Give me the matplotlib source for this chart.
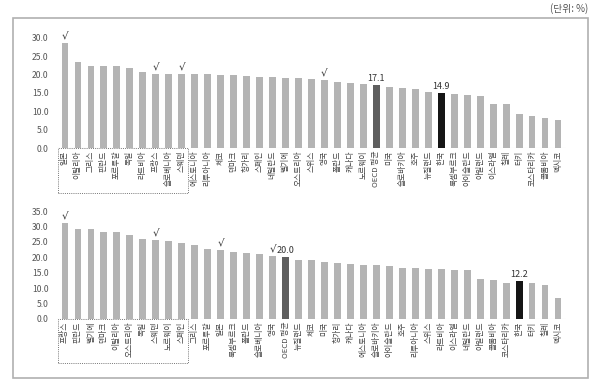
#!/usr/bin/env python3
"""
Two OECD ranking bar charts (top / bottom panel) with Korea highlighted.
Saves out.png (600x388).
"""

import matplotlib
matplotlib.use("Agg")
import matplotlib.pyplot as plt
from matplotlib.patches import Rectangle
from matplotlib.transforms import blended_transform_factory

plt.rcParams["font.family"] = ["Noto Sans CJK KR", "DejaVu Sans"]

# top panel
top_countries = [
    "일본", "이탈리아", "그리스", "핀란드", "포르투갈", "독일", "라트비아", "프랑스",
    "슬로베니아", "스웨덴", "에스토니아", "리투아니아", "체코", "덴마크", "헝가리",
    "스페인", "네덜란드", "벨기에", "오스트리아", "스위스", "영국", "폴란드", "캐나다",
    "노르웨이", "OECD 평균", "미국", "슬로바키아", "호주", "뉴질랜드", "한국",
    "룩셈부르크", "아이슬란드", "아일랜드", "이스라엘", "칠레", "터키", "코스타리카",
    "콜롬비아", "멕시코",
]
top_values = [
    28.6, 23.4, 22.4, 22.3, 22.3, 21.8, 20.6, 20.3, 20.3, 20.1, 20.1, 20.1, 19.9,
    19.9, 19.6, 19.4, 19.3, 19.2, 19.0, 18.8, 18.5, 17.9, 17.6, 17.4, 17.1, 16.5,
    16.4, 16.1, 15.3, 14.9, 14.6, 14.4, 14.2, 12.0, 12.0, 9.2, 8.6, 8.3, 7.5,
]
top_checks = ["일본", "프랑스", "스웨덴", "영국"]

# bottom panel
bottom_countries = [
    "프랑스", "핀란드", "벨기에", "덴마크", "이탈리아", "오스트리아", "독일", "스웨덴",
    "노르웨이", "스페인", "그리스", "포르투갈", "일본", "룩셈부르크", "폴란드",
    "슬로베니아", "영국", "OECD 평균", "뉴질랜드", "체코", "미국", "헝가리", "캐나다",
    "에스토니아", "슬로바키아", "아이슬란드", "호주", "리투아니아", "스위스", "라트비아",
    "이스라엘", "네덜란드", "아일랜드", "콜롬비아", "코스타리카", "한국", "터키",
    "칠레", "멕시코",
]
bottom_values = [
    31.3, 29.3, 29.1, 28.3, 28.3, 27.2, 26.1, 25.6, 25.3, 24.8, 24.0, 22.6, 22.4,
    21.7, 21.3, 21.1, 20.6, 20.0, 19.3, 19.1, 18.6, 18.1, 17.9, 17.4, 17.4, 17.2,
    16.5, 16.5, 16.3, 16.1, 16.0, 15.8, 13.1, 12.7, 11.8, 12.2, 11.6, 11.0, 6.9,
]
bottom_checks = ["프랑스", "스웨덴", "일본", "영국"]

top_ticks = [0, 5, 10, 15, 20, 25, 30]
bottom_ticks = [0, 5, 10, 15, 20, 25, 30, 35]
boxed_count = 10

GRAY = "#b4b4b4"
OECD_COLOR = "#5f5f5f"
KOREA_COLOR = "#151515"


def draw_panel(ax, countries, values, checks, ticks, ymax, box_depth):
    colors = []
    for name in countries:
        if name == "한국":
            colors.append(KOREA_COLOR)
        elif name == "OECD 평균":
            colors.append(OECD_COLOR)
        else:
            colors.append(GRAY)
    x = list(range(len(countries)))
    ax.bar(x, values, width=0.5, color=colors, zorder=2)
    ax.set_xlim(-0.6, len(countries) - 0.4)
    ax.set_ylim(0, ymax)
    ax.set_yticks(ticks)
    ax.set_yticklabels([f"{t:.1f}" for t in ticks], fontsize=6.2, color="#555555")
    ax.set_xticks(x)
    ax.set_xticklabels(countries, rotation=90, fontsize=5.6, color="#444444",
                       va="top", ha="center")
    ax.tick_params(length=0, pad=2)
    ax.tick_params(axis="y", pad=6)
    for side in ax.spines:
        ax.spines[side].set_visible(False)
    ax.axhline(0, color="#dddddd", lw=0.8, zorder=1)

    # value labels on OECD and Korea
    for name in ("OECD 평균", "한국"):
        i = countries.index(name)
        ax.text(i, values[i] + ymax * 0.02, f"{values[i]:.1f}", ha="center",
                va="bottom", fontsize=6.5, color="#333333")

    # check marks
    for name in checks:
        i = countries.index(name)
        ax.text(i, values[i] + ymax * 0.02, "√", ha="center", va="bottom",
                fontsize=7.5, color="#333333", family=["DejaVu Sans"])

    # dotted box round the first labels
    trans = blended_transform_factory(ax.transData, ax.transAxes)
    ax.add_patch(Rectangle((-0.55, -box_depth), boxed_count - 0.05 + 0.1, box_depth,
                           transform=trans, fill=False, ls=(0, (1, 1.2)),
                           lw=0.7, edgecolor="#777777", clip_on=False))


fig = plt.figure(figsize=(6.0, 3.88), dpi=100)
W, H = 600, 388

ax_top = fig.add_axes([57 / W, (H - 148) / H, 509 / W, 117.4 / H])
draw_panel(ax_top, top_countries, top_values, top_checks, top_ticks, 32, 0.385)

ax_bot = fig.add_axes([57 / W, (H - 319) / H, 509 / W, 110.9 / H])
draw_panel(ax_bot, bottom_countries, bottom_values, bottom_checks, bottom_ticks, 36, 0.40)

# outer frame
fig.add_artist(Rectangle((13 / W, (H - 378) / H), 575 / W, 360 / H,
                         transform=fig.transFigure, fill=False,
                         edgecolor="#b0b0b0", lw=1.2))
fig.text(588 / W, (H - 9) / H, "(단위: %)", ha="right", va="center",
         fontsize=7, color="#555555")

fig.savefig("out.png", dpi=100)
